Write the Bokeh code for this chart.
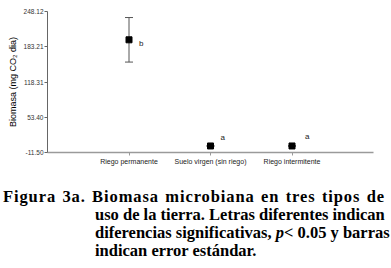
from bokeh.plotting import figure
from bokeh.layouts import column
from bokeh.models import (Range1d, FixedTicker, Whisker, ColumnDataSource,
                          TeeHead, NumeralTickFormatter, Div)
from bokeh.core.properties import value
from bokeh.embed import file_html
from bokeh.resources import INLINE

# ---- data ----
categories = ["Riego permanente", "Suelo virgen (sin riego)", "Riego intermitente"]
biomasa = [196.0, 0.5, 0.5]
error_std = [41.0, 0.5, 0.5]
letras = ["b", "a", "a"]
y_ticks = [-11.50, 53.40, 118.31, 183.21, 248.12]

caption_lines = [
    "Figura 3a. Biomasa microbiana en tres tipos de",
    "uso de la tierra. Letras diferentes indican",
    "diferencias significativas, <i>p</i>&lt; 0.05 y barras",
    "indican error est\u00e1ndar.",
]

# ---- styles ----
letter_dx = [10, 10, 13]
letter_dy = [4, -8, -9]
SANS = "Liberation Sans"
W, H = 391, 268
H1 = 188

xpos = list(range(1, len(categories) + 1))
src = ColumnDataSource(dict(
    x=xpos, y=biomasa,
    upper=[m + e for m, e in zip(biomasa, error_std)],
    lower=[m - e for m, e in zip(biomasa, error_std)],
    letra=letras, dx=letter_dx, dy=letter_dy,
))

p = figure(width=W, height=H1, output_backend="svg", toolbar_location=None,
           x_range=Range1d(0, len(categories) + 1),
           y_range=Range1d(y_ticks[0], y_ticks[-1]),
           min_border_left=47, min_border_right=18, min_border_top=11,
           min_border_bottom=H1 - 152)
p.outline_line_color = None
p.grid.visible = False

# y axis
ya = p.yaxis[0]
ya.ticker = FixedTicker(ticks=y_ticks)
ya.formatter = NumeralTickFormatter(format="0.00")
ya.major_label_text_font = SANS
ya.major_label_text_font_size = "6.5px"
ya.major_label_text_color = "#333333"
ya.major_tick_out = 3
ya.major_tick_in = 0
ya.minor_tick_out = 0
ya.minor_tick_in = 0
ya.major_label_standoff = 1
ya.axis_line_color = "#666666"
ya.major_tick_line_color = "#666666"
ya.axis_label = "Biomasa (mg CO\u2082 dia)"
ya.axis_label_text_font = SANS
ya.axis_label_text_font_size = "9px"
ya.axis_label_text_font_style = "normal"
ya.axis_label_text_color = "#000000"
ya.axis_label_standoff = 3

# x axis
xa = p.xaxis[0]
xa.ticker = FixedTicker(ticks=xpos)
xa.major_label_overrides = {x: c for x, c in zip(xpos, categories)}
xa.major_label_text_font = SANS
xa.major_label_text_font_size = "7px"
xa.major_label_text_color = "#222222"
xa.major_tick_out = 3
xa.major_tick_in = 0
xa.minor_tick_out = 0
xa.minor_tick_in = 0
xa.major_label_standoff = 2
xa.axis_line_color = "#9a9a9a"
xa.axis_line_width = 1.5
xa.major_tick_line_color = "#9a9a9a"

# error bars
p.add_layout(Whisker(source=src, base="x", upper="upper", lower="lower",
                     line_color="#555555", line_width=1,
                     upper_head=TeeHead(size=8, line_color="#555555"),
                     lower_head=TeeHead(size=8, line_color="#555555")))
# points
p.scatter(x="x", y="y", source=src, marker="square", size=6,
          fill_color="black", line_color="black")
# significance letters
p.text(x="x", y="y", text="letra", source=src, x_offset="dx", y_offset="dy",
       text_font=value(SANS), text_font_size="8px", text_color="#222222",
       text_align="left", text_baseline="middle")

# ---- caption ----
base = ("font-family:'Liberation Serif',serif;font-weight:bold;font-size:16.5px;"
        "line-height:18px;color:#000;white-space:nowrap;")
rows = []
for i, ln in enumerate(caption_lines):
    if i == 0:
        st = "padding-left:3px;width:385px;letter-spacing:0.9px;text-align:justify;text-align-last:justify;"
    elif i < len(caption_lines) - 1:
        st = "padding-left:95px;width:293px;text-align:justify;text-align-last:justify;"
    else:
        st = "padding-left:95px;width:293px;text-align:left;"
    rows.append(f'<div style="{st}">{ln}</div>')
cap = Div(text=f'<div style="{base}">' + "".join(rows) + "</div>",
          width=W, height=H - H1, margin=(0, 0, 0, 0))

layout = column(p, cap)
open("out.html", "w").write(file_html(layout, INLINE))
